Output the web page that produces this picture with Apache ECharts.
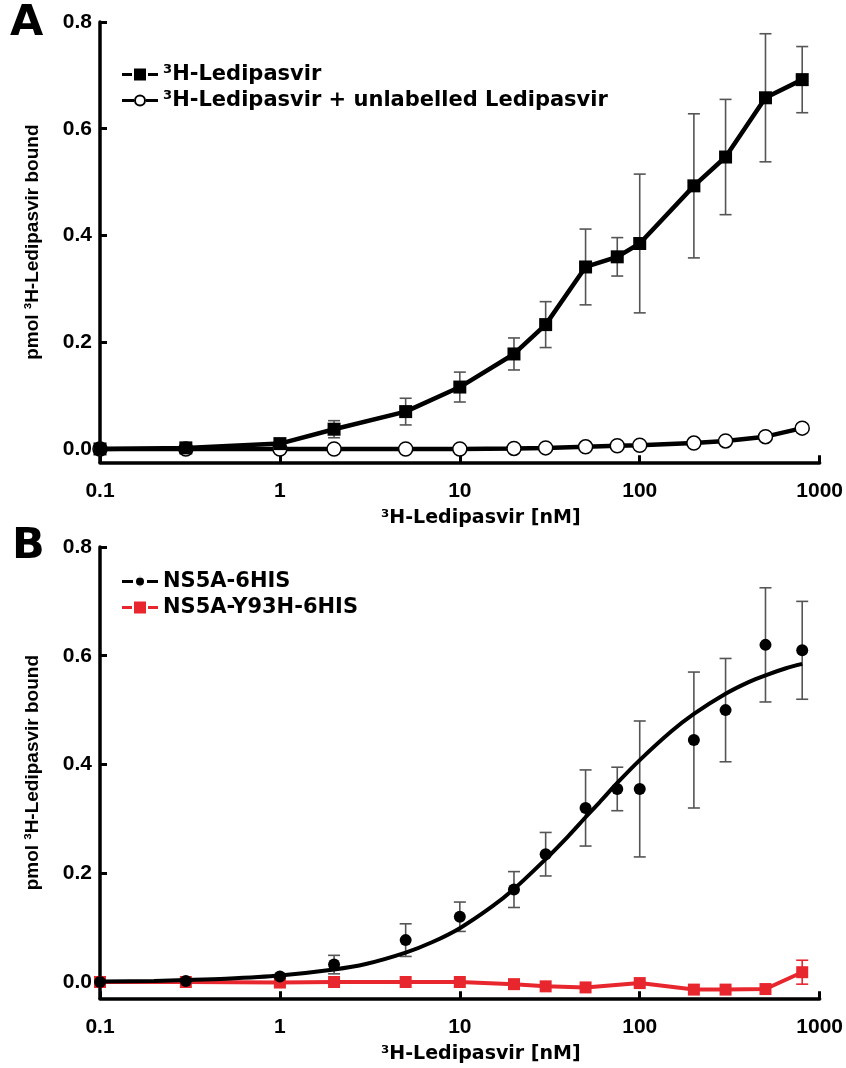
<!DOCTYPE html>
<html><head><meta charset="utf-8">
<script src="https://cdn.jsdelivr.net/npm/echarts@6/dist/echarts.min.js"></script>
<style>html,body{margin:0;padding:0;background:#fff}#c{width:846px;height:1068px}</style>
</head><body><div id="c"></div>
<script>
// ---- data ----
const conc = [0.1, 0.3, 1, 2, 5, 10, 20, 30, 50, 75, 100, 200, 300, 500, 800];
// Panel A
const ledipasvirMean = [0, 0.002, 0.01, 0.037, 0.07, 0.116, 0.178, 0.233, 0.341, 0.36, 0.385, 0.493, 0.547, 0.658, 0.692];
const ledipasvirErr  = [0, 0, 0.003, 0.016, 0.025, 0.028, 0.03, 0.043, 0.071, 0.036, 0.13, 0.135, 0.108, 0.12, 0.062];
const competedMean   = [0, 0, 0, 0, 0, 0, 0.001, 0.002, 0.004, 0.006, 0.007, 0.011, 0.015, 0.023, 0.039];
const competedErr    = [0, 0, 0, 0, 0, 0, 0, 0, 0, 0, 0, 0, 0, 0, 0.008];
// Panel B
const ns5aMean = [0, 0.002, 0.01, 0.032, 0.077, 0.12, 0.17, 0.235, 0.32, 0.355, 0.355, 0.445, 0.5, 0.62, 0.61];
const ns5aErr  = [0, 0, 0.003, 0.017, 0.03, 0.027, 0.033, 0.04, 0.07, 0.04, 0.125, 0.125, 0.095, 0.105, 0.09];
// fitted binding curve
const fitConc  = [0.1, 0.2, 0.3, 0.5, 1, 2, 3, 5, 7, 10, 15, 20, 30, 40, 50, 60, 75, 100, 150, 200, 300, 400, 500, 650, 800];
const fitValue = [0.001, 0.002, 0.0035, 0.006, 0.012, 0.023, 0.033, 0.054, 0.073, 0.099, 0.138, 0.171, 0.226, 0.268, 0.303, 0.331, 0.366, 0.408, 0.461, 0.493, 0.53, 0.551, 0.564, 0.577, 0.585];
const y93hConc = [0.1, 0.3, 1, 2, 5, 10, 20, 30, 50, 100, 200, 300, 500, 800];
const y93hMean = [0, 0, -0.001, 0, 0, 0, -0.004, -0.008, -0.01, -0.002, -0.014, -0.014, -0.013, 0.018];
const y93hErr  = [0, 0, 0, 0, 0, 0, 0, 0, 0, 0, 0, 0, 0, 0.022];
const yTicks = [0, 0.2, 0.4, 0.6, 0.8];
const xTitle = '³H-Ledipasvir [nM]';
const yTitle = 'pmol ³H-Ledipasvir bound';
const nameA1 = '³H-Ledipasvir';
const nameA2 = '³H-Ledipasvir + unlabelled Ledipasvir';
const nameB1 = 'NS5A-6HIS';
const nameB2 = 'NS5A-Y93H-6HIS';

const FONT = 'Liberation Sans, Arial, sans-serif';
const WIDE = 'DejaVu Sans, sans-serif';
const RED = '#e8262e';
const zip = (xs, ys) => xs.map((x, i) => [x, ys[i]]);
const zip3 = (xs, ys, es) => xs.map((x, i) => [x, ys[i], es[i]]);

function errBar(idx, data, color) {
  return {
    type: 'custom', xAxisIndex: idx, yAxisIndex: idx, z: 1, silent: true,
    data: data,
    renderItem: function (params, api) {
      const e = api.value(2);
      if (!(e > 0)) return null;
      const x = api.value(0), m = api.value(1);
      const hi = api.coord([x, m + e]);
      const lo = api.coord([x, m - e]);
      const w = 6;
      const st = { stroke: color, lineWidth: 1.6 };
      return { type: 'group', children: [
        { type: 'line', shape: { x1: hi[0], y1: hi[1], x2: lo[0], y2: lo[1] }, style: st },
        { type: 'line', shape: { x1: hi[0] - w, y1: hi[1], x2: hi[0] + w, y2: hi[1] }, style: st },
        { type: 'line', shape: { x1: lo[0] - w, y1: lo[1], x2: lo[0] + w, y2: lo[1] }, style: st }
      ]};
    }
  };
}

function xAx(idx) {
  return {
    type: 'log', logBase: 10, min: 0.1, max: 1000, gridIndex: idx,
    name: xTitle, nameLocation: 'middle', nameGap: 46,
    nameTextStyle: { fontFamily: WIDE, fontWeight: 'bold', fontSize: 19, color: '#000', padding: [0, 0, 0, 42] },
    axisLine: { onZero: false, lineStyle: { color: '#000', width: 3.5 } },
    axisTick: { inside: true, length: 7, lineStyle: { color: '#000', width: 3 } },
    axisLabel: { fontFamily: FONT, fontWeight: 'bold', fontSize: 21, color: '#000', margin: 18,
      formatter: v => String(v) },
    splitLine: { show: false }, minorTick: { show: false }
  };
}
function yAx(idx, min) {
  return {
    type: 'value', min: min, max: 0.8, gridIndex: idx,
    name: yTitle, nameLocation: 'middle', nameGap: 58,
    nameTextStyle: { fontFamily: FONT, fontWeight: 'bold', fontSize: 19, color: '#000' },
    axisLine: { show: true, onZero: false, lineStyle: { color: '#000', width: 3.5 } },
    axisTick: { show: true, inside: true, length: 7, customValues: yTicks, lineStyle: { color: '#000', width: 3 } },
    axisLabel: { fontFamily: FONT, fontWeight: 'bold', fontSize: 21, color: '#000', margin: 8,
      customValues: yTicks, formatter: v => v.toFixed(1) },
    splitLine: { show: false }
  };
}

const legendText = { fontFamily: WIDE, fontWeight: 'bold', fontSize: 21, color: '#000' };
const ICON_SQ = 'path://M0,4.5h10v3h-10zM12,0h12v12h-12zM26,4.5h10v3h-10z';
const ICON_OC = 'path://M0,4.5h12v3h-12zM24,4.5h12v3h-12zM18,0a6,6 0 1,1 0,12a6,6 0 1,1 0,-12zM18,2a4,4 0 1,0 0,8a4,4 0 1,0 0,-8z';
const ICON_DOT = 'path://M0,4.5h11v3h-11zM25,4.5h11v3h-11zM18,2a4,4 0 1,1 0,8a4,4 0 1,1 0,-8zM17.9,0h0.2v12h-0.2z';
function leg(name, top, icon, color) {
  return { orient: 'vertical', left: 117, top: top, itemWidth: 36, itemHeight: 12, itemGap: 6,
    textStyle: legendText, selectedMode: false,
    data: [{ name: name, icon: icon, itemStyle: { color: color, borderWidth: 0 } }] };
}

const option = {
  backgroundColor: '#fff',
  animation: false,
  grid: [
    { left: 100, right: 24, top: 22, height: 440.3 },
    { left: 100, right: 24, top: 547, height: 451.3 }
  ],
  xAxis: [xAx(0), xAx(1)],
  yAxis: [yAx(0, -0.025), yAx(1, -0.03)],
  legend: [
    leg(nameA1, 59, ICON_SQ, '#000'),
    leg(nameA2, 85, ICON_OC, '#000'),
    leg(nameB1, 566, ICON_DOT, '#000'),
    leg(nameB2, 592, ICON_SQ, RED)
  ],
  graphic: [
    { type: 'text', left: 10, top: 2, style: { text: 'A', fontFamily: WIDE, fontWeight: 'bold', fontSize: 43, fill: '#000' } },
    { type: 'text', left: 12, top: 525, style: { text: 'B', fontFamily: WIDE, fontWeight: 'bold', fontSize: 43, fill: '#000' } }
  ],
  series: [
    errBar(0, zip3(conc, ledipasvirMean, ledipasvirErr), '#555'),
    errBar(0, zip3(conc, competedMean, competedErr), '#555'),
    { name: nameA2, type: 'line', xAxisIndex: 0, yAxisIndex: 0, z: 2,
      data: zip(conc, competedMean), symbol: 'circle', symbolSize: 14,
      itemStyle: { color: '#fff', borderColor: '#000', borderWidth: 1.5 },
      lineStyle: { color: '#000', width: 4.5 } },
    { name: nameA1, type: 'line', xAxisIndex: 0, yAxisIndex: 0, z: 3,
      data: zip(conc, ledipasvirMean), symbol: 'rect', symbolSize: 13,
      itemStyle: { color: '#000' }, lineStyle: { color: '#000', width: 4.5 } },

    errBar(1, zip3(conc, ns5aMean, ns5aErr), '#555'),
    errBar(1, zip3(y93hConc, y93hMean, y93hErr), RED),
    { name: nameB2, type: 'line', xAxisIndex: 1, yAxisIndex: 1, z: 2,
      data: zip(y93hConc, y93hMean), symbol: 'rect', symbolSize: 12,
      itemStyle: { color: RED }, lineStyle: { color: RED, width: 4 } },
    { name: 'fit', type: 'line', xAxisIndex: 1, yAxisIndex: 1, z: 3, smooth: 0.3,
      data: zip(fitConc, fitValue), symbol: 'none', lineStyle: { color: '#000', width: 4 } },
    { name: nameB1, type: 'line', xAxisIndex: 1, yAxisIndex: 1, z: 4,
      data: zip(conc, ns5aMean), symbol: 'circle', symbolSize: 12,
      itemStyle: { color: '#000' }, lineStyle: { width: 0, opacity: 0 } }
  ]
};
const chart = echarts.init(document.getElementById('c'), null, { renderer: 'canvas' });
chart.setOption(option);
</script></body></html>
